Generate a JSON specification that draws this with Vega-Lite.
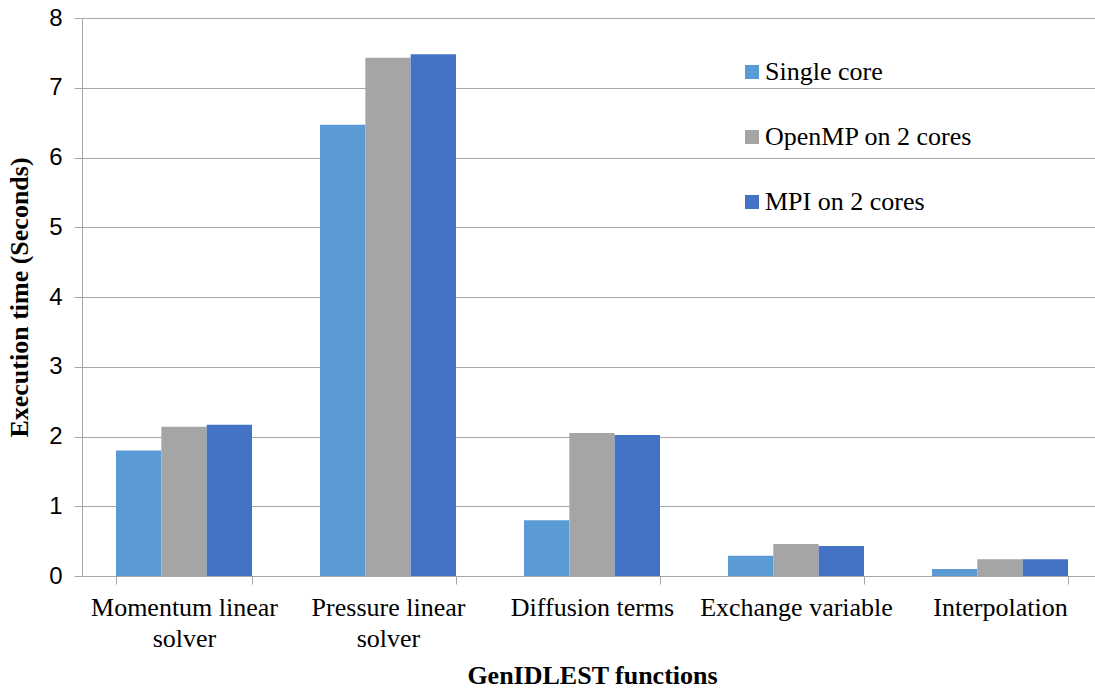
{
  "$schema": "https://vega.github.io/schema/vega-lite/v6.json",
  "width": 1020,
  "height": 558,
  "autosize": {"type": "none"},
  "padding": {"left": 82, "top": 18, "right": 0, "bottom": 114},
  "background": "white",
  "data": {
    "values": [
      {"func": "Momentum linear solver", "series": "Single core", "value": 1.80},
      {"func": "Momentum linear solver", "series": "OpenMP on 2 cores", "value": 2.14},
      {"func": "Momentum linear solver", "series": "MPI on 2 cores", "value": 2.17},
      {"func": "Pressure linear solver", "series": "Single core", "value": 6.47},
      {"func": "Pressure linear solver", "series": "OpenMP on 2 cores", "value": 7.43},
      {"func": "Pressure linear solver", "series": "MPI on 2 cores", "value": 7.48},
      {"func": "Diffusion terms", "series": "Single core", "value": 0.80},
      {"func": "Diffusion terms", "series": "OpenMP on 2 cores", "value": 2.05},
      {"func": "Diffusion terms", "series": "MPI on 2 cores", "value": 2.02},
      {"func": "Exchange variable", "series": "Single core", "value": 0.29},
      {"func": "Exchange variable", "series": "OpenMP on 2 cores", "value": 0.46},
      {"func": "Exchange variable", "series": "MPI on 2 cores", "value": 0.43},
      {"func": "Interpolation", "series": "Single core", "value": 0.10},
      {"func": "Interpolation", "series": "OpenMP on 2 cores", "value": 0.24},
      {"func": "Interpolation", "series": "MPI on 2 cores", "value": 0.24}
    ]
  },
  "mark": {"type": "bar"},
  "encoding": {
    "x": {
      "field": "func",
      "type": "nominal",
      "sort": null,
      "scale": {"paddingInner": 0.3333, "paddingOuter": 0.1667},
      "axis": {
        "title": "GenIDLEST functions",
        "labelAngle": 0,
        "labelFont": "Liberation Serif",
        "labelFontSize": 26,
        "labelColor": "black",
        "labelLineHeight": 31,
        "labelPadding": 10,
        "labelLimit": 0,
        "labelExpr": "datum.value == 'Momentum linear solver' ? ['Momentum linear', 'solver'] : datum.value == 'Pressure linear solver' ? ['Pressure linear', 'solver'] : datum.value",
        "tickBand": "extent",
        "tickSize": 8,
        "tickColor": "#A6A6A6",
        "domainColor": "#A6A6A6",
        "titleFont": "Liberation Serif",
        "titleFontSize": 26,
        "titleFontWeight": "bold",
        "titleColor": "black",
        "titlePadding": 11
      }
    },
    "xOffset": {
      "field": "series",
      "type": "nominal",
      "sort": ["Single core", "OpenMP on 2 cores", "MPI on 2 cores"],
      "scale": {"paddingInner": 0, "paddingOuter": 0}
    },
    "y": {
      "field": "value",
      "type": "quantitative",
      "scale": {"domain": [0, 8], "nice": false},
      "axis": {
        "title": "Execution time (Seconds)",
        "values": [0, 1, 2, 3, 4, 5, 6, 7, 8],
        "labelFont": "Liberation Sans",
        "labelFontSize": 24,
        "labelColor": "black",
        "labelPadding": 12,
        "tickSize": 8,
        "tickColor": "#A6A6A6",
        "domainColor": "#A6A6A6",
        "gridColor": "#A6A6A6",
        "grid": true,
        "titleFont": "Liberation Serif",
        "titleFontSize": 26,
        "titleFontWeight": "bold",
        "titleColor": "black",
        "titlePadding": 16
      }
    },
    "color": {
      "field": "series",
      "type": "nominal",
      "sort": ["Single core", "OpenMP on 2 cores", "MPI on 2 cores"],
      "scale": {
        "domain": ["Single core", "OpenMP on 2 cores", "MPI on 2 cores"],
        "range": ["#5B9BD5", "#A5A5A5", "#4472C4"]
      },
      "legend": {
        "title": null,
        "orient": "none",
        "legendX": 657,
        "legendY": 41,
        "symbolType": "square",
        "symbolSize": 196,
        "symbolStrokeWidth": 0,
        "labelFont": "Liberation Serif",
        "labelFontSize": 26,
        "labelColor": "black",
        "labelOffset": 0,
        "rowPadding": 39,
        "labelLimit": 400
      }
    }
  },
  "config": {
    "view": {"stroke": null},
    "axis": {"gridWidth": 1, "domainWidth": 1, "tickWidth": 1}
  }
}
